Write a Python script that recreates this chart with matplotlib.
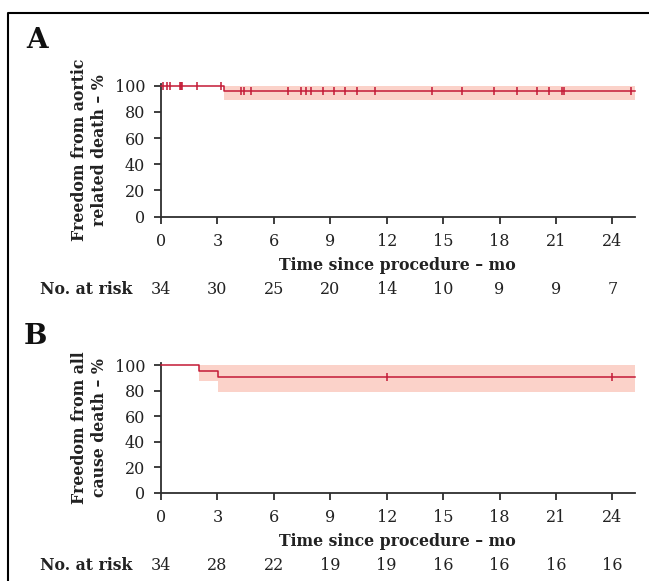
import numpy as np
import matplotlib
matplotlib.use("Agg")
import matplotlib.pyplot as plt
from matplotlib.lines import Line2D

# Kaplan-Meier estimates (percent)
TIME_A = [0, 3.35, 25.17]
SURV_A = [100, 95.6, 95.6]
LOW_A = [100, 88.7, 88.7]
HIGH_A = [100, 100, 100]
CENSOR_A = [0.09, 0.34, 0.48, 0.99, 1.05, 1.10, 1.89, 3.21, 4.23, 4.43, 4.76,
            6.73, 7.42, 7.69, 7.99, 8.63, 9.19, 9.78, 10.43, 11.37, 14.38,
            15.99, 17.72, 18.91, 20.01, 20.65, 21.29, 21.40, 24.98]
RISK_A = [34, 30, 25, 20, 14, 10, 9, 9, 7]

TIME_B = [0, 2.02, 3.01, 25.17]
SURV_B = [100, 95.8, 90.6, 90.6]
LOW_B = [100, 87.6, 78.8, 78.8]
HIGH_B = [100, 100, 100, 100]
CENSOR_B = [12, 24]
RISK_B = [34, 28, 22, 19, 19, 16, 16, 16, 16]

TICKS_X = [0, 3, 6, 9, 12, 15, 18, 21, 24]
TICKS_Y = [0, 20, 40, 60, 80, 100]
XLABEL = "Time since procedure \u2013 mo"
YLABEL_A = "Freedom from aortic\nrelated death \u2013 %"
YLABEL_B = "Freedom from all\ncause death \u2013 %"

RED = "#c41a36"
BAND = "#fbd2c9"
AXC = "#2e2e2e"
TXT = "#222222"

plt.rcParams["font.family"] = ["DejaVu Serif"]
W, H = 649, 581
fig = plt.figure(figsize=(W / 100, H / 100), dpi=100)


def px(n):
    # pixels -> points
    return n * 0.72


def km_panel(rect, t, s, lo, hi, cens, risk, ylabel, letter, letter_xy):
    ax = fig.add_axes(rect)
    ax.fill_between(t, lo, hi, step="post", color=BAND, lw=0, zorder=1)
    ax.step(t, s, where="post", color=RED, lw=1.1, zorder=3, clip_on=False)
    # censor marks sit on the step curve
    idx = np.searchsorted(t, cens, side="right") - 1
    ax.plot(cens, np.array(s)[idx], ls="none", marker="|", ms=6, mew=1.1,
            color=RED, zorder=4, clip_on=False)

    ax.set_xlim(0, 25.17)
    ax.set_ylim(0, 101.5)
    ax.set_xticks(TICKS_X)
    ax.set_yticks(TICKS_Y)
    for sp in ["top", "right"]:
        ax.spines[sp].set_visible(False)
    for sp in ["left", "bottom"]:
        ax.spines[sp].set_color(AXC)
        ax.spines[sp].set_linewidth(1.3)
    ax.tick_params(axis="both", colors=AXC, labelcolor=TXT, labelsize=11.5,
                   width=1.3, length=5.3)
    ax.tick_params(axis="x", pad=6.3)
    ax.tick_params(axis="y", pad=6.2)

    ax.annotate(XLABEL, xy=(0.5, 0), xycoords="axes fraction",
                xytext=(0, -px(49)), textcoords="offset points",
                ha="center", va="center", fontsize=11.3, fontweight="bold",
                color=TXT)
    ax.text(-0.151, 0.5, ylabel, transform=ax.transAxes, rotation=90,
            ha="center", va="center", multialignment="center",
            fontsize=11.3, fontweight="bold", color=TXT)

    # number at risk row
    for x, n in zip(TICKS_X, risk):
        ax.annotate(str(n), xy=(x, 0), xycoords=("data", "axes fraction"),
                    xytext=(0, -px(73)), textcoords="offset points",
                    ha="center", va="center", fontsize=11.5, color=TXT)
    ax.annotate("No. at risk", xy=(0, 0), xycoords="axes fraction",
                xytext=(-px(28.5), -px(73)), textcoords="offset points",
                ha="right", va="center", fontsize=11.3, fontweight="bold",
                color=TXT)
    fig.text(letter_xy[0] / W, 1 - letter_xy[1] / H, letter, ha="center",
             va="center", fontsize=20, fontweight="bold", color="#111111")
    return ax


left = 161 / W
width = (634.5 - 161) / W
km_panel([left, 1 - 216.7 / H, width, (216.7 - 83.7) / H],
         TIME_A, SURV_A, LOW_A, HIGH_A, CENSOR_A, RISK_A, YLABEL_A, "A", (37, 40))
km_panel([left, 1 - 492.7 / H, width, (492.7 - 363.3) / H],
         TIME_B, SURV_B, LOW_B, HIGH_B, CENSOR_B, RISK_B, YLABEL_B, "B", (35.6, 337))

# outer frame: left and top edge only
fig.add_artist(Line2D([8 / W, 8 / W, 1.0], [0.0, 1 - 13.3 / H, 1 - 13.3 / H],
                      transform=fig.transFigure, color="black", lw=1.5))

fig.savefig("out.png", dpi=100)
